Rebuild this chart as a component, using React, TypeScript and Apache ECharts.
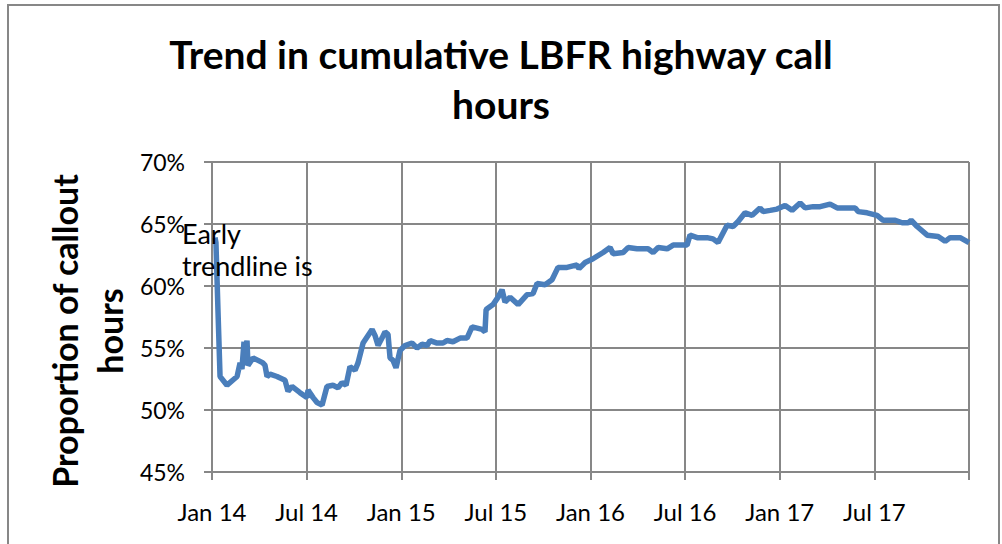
import React, { useEffect, useRef } from "react";
import * as echarts from "echarts";

// months since Jan 2014
const months: number[] = [
  0.19, 0.25, 0.38, 0.51, 0.95, 1.59, 1.78, 1.9, 2.03, 2.09, 2.22, 2.28, 2.6, 2.92, 3.23, 3.36, 3.49, 3.68,
  4.12, 4.63, 4.82, 5.07, 5.58, 6.02, 6.09, 6.41, 6.66, 6.98, 7.29, 7.67, 7.99, 8.24, 8.5, 8.75, 9.07, 9.26,
  9.58, 10.15, 10.34, 10.53, 10.78, 10.97, 11.16, 11.29, 11.48, 11.67, 11.92, 12.24, 12.68, 13.0, 13.32,
  13.64, 13.83, 14.27, 14.65, 14.9, 15.28, 15.73, 16.17, 16.49, 16.81, 17.12, 17.31, 17.38, 17.82, 18.14,
  18.39, 18.58, 18.9, 19.41, 19.98, 20.36, 20.61, 21.12, 21.56, 21.94, 22.51, 23.15, 23.27, 23.66, 24.16,
  24.8, 25.24, 25.43, 26.07, 26.38, 26.95, 27.33, 27.65, 27.97, 28.29, 28.86, 29.24, 29.68, 30.12, 30.31,
  30.76, 31.39, 31.77, 32.09, 32.66, 33.04, 33.36, 33.8, 34.25, 34.75, 34.94, 35.39, 35.83, 36.34, 36.78,
  37.29, 37.61, 38.12, 38.56, 39.19, 39.64, 40.27, 40.78, 40.97, 41.54, 42.17, 42.56, 43.32, 43.76, 44.14,
  44.33, 44.71, 45.35, 46.04, 46.49, 46.8, 47.44, 48.0,
];

// proportion of callout hours (%)
const proportion: number[] = [
  63.9, 63.5, 58.0, 52.7, 52.0, 52.7, 53.8, 53.3, 55.5, 53.6, 55.6, 53.6, 54.2, 54.0, 53.8, 53.6, 52.7, 52.9,
  52.7, 52.4, 51.5, 51.9, 51.4, 51.0, 51.6, 51.0, 50.6, 50.4, 51.9, 52.0, 51.8, 52.2, 52.0, 53.5, 53.2, 53.8,
  55.4, 56.5, 56.0, 55.2, 55.8, 56.3, 56.1, 54.2, 54.0, 53.4, 54.8, 55.2, 55.4, 55.0, 55.3,
  55.2, 55.6, 55.4, 55.4, 55.6, 55.5, 55.8, 55.8, 56.7, 56.6, 56.5, 56.3, 58.1, 58.5, 59.1,
  59.7, 58.7, 59.1, 58.5, 59.3, 59.4, 60.2, 60.1, 60.5, 61.5, 61.5, 61.7, 61.4, 61.9, 62.2,
  62.7, 63.1, 62.6, 62.7, 63.1, 63.0, 63.0, 63.0, 62.7, 63.1, 63.0, 63.3, 63.3, 63.3, 64.1,
  63.9, 63.9, 63.8, 63.5, 64.9, 64.8, 65.2, 65.9, 65.7, 66.3, 66.0, 66.1, 66.2, 66.5, 66.1,
  66.7, 66.3, 66.4, 66.4, 66.6, 66.3, 66.3, 66.3, 66.0, 65.9, 65.7, 65.3, 65.3, 65.1, 65.1,
  65.3, 64.8, 64.1, 64.0, 63.6, 63.9, 63.9, 63.5,
];

const xTickLabels: string[] = ["Jan 14", "Jul 14", "Jan 15", "Jul 15", "Jan 16", "Jul 16", "Jan 17", "Jul 17", ""];

const titleText = "Trend in cumulative LBFR highway call\nhours";
const yTitle = "Proportion of callout\nhours";
const annotation = "Early\ntrendline is";

const FONT = "Lato, 'Open Sans', sans-serif";
const GRID = "#878787";

export default function App() {
  const ref = useRef<HTMLDivElement>(null);
  useEffect(() => {
    document.body.style.margin = "0";
    if (!ref.current) return;
    const chart = echarts.init(ref.current, null, { renderer: "svg" });
    const data = months.map((m, i) => [m, proportion[i]]);
    chart.setOption({
      animation: false,
      backgroundColor: "#ffffff",
      title: {
        text: titleText,
        left: "center",
        top: 24,
        textStyle: { fontFamily: FONT, fontSize: 39, fontWeight: "bold", color: "#000", lineHeight: 50 },
      },
      grid: { left: 212, right: 33, top: 162, bottom: 72, containLabel: false },
      xAxis: {
        type: "value",
        min: 0,
        max: 48,
        interval: 6,
        axisLine: { show: true, lineStyle: { color: GRID, width: 2 } },
        axisTick: { show: true, length: 8, lineStyle: { color: GRID, width: 2 } },
        splitLine: { show: true, lineStyle: { color: GRID, width: 2 } },
        axisLabel: {
          margin: 27,
          fontFamily: FONT,
          fontSize: 24,
          color: "#000",
          formatter: (v: number) => xTickLabels[Math.round(v / 6)] ?? "",
        },
      },
      yAxis: {
        type: "value",
        min: 45,
        max: 70,
        interval: 5,
        axisLine: { show: true, lineStyle: { color: GRID, width: 2 } },
        axisTick: { show: true, length: 8, lineStyle: { color: GRID, width: 2 } },
        splitLine: { show: true, lineStyle: { color: GRID, width: 2 } },
        axisLabel: {
          margin: 27,
          fontFamily: FONT,
          fontSize: 23,
          color: "#000",
          formatter: (v: number) => `${v}%`,
        },
      },
      series: [
        {
          type: "line",
          data,
          showSymbol: false,
          symbol: "none",
          lineStyle: { color: "#4a7ebb", width: 5.5 },
          z: 5,
        },
      ],
      graphic: [
        {
          type: "rect",
          shape: { x: 8, y: 5, width: 991, height: 560 },
          style: { fill: "none", stroke: "#878787", lineWidth: 2 },
          z: 0,
        },
        {
          type: "text",
          x: 87,
          y: 331,
          rotation: Math.PI / 2,
          style: {
            text: yTitle,
            fontFamily: FONT,
            fontSize: 34,
            fontWeight: "bold",
            fill: "#000",
            align: "center",
            verticalAlign: "middle",
            lineHeight: 45,
          },
          z: 10,
        },
        {
          type: "text",
          x: 182,
          y: 217,
          style: {
            text: annotation,
            fontFamily: FONT,
            fontSize: 27,
            fill: "#000",
            lineHeight: 32,
          },
          z: 10,
        },
      ],
    });
    return () => chart.dispose();
  }, []);
  return <div ref={ref} style={{ width: 1002, height: 544 }} />;
}
